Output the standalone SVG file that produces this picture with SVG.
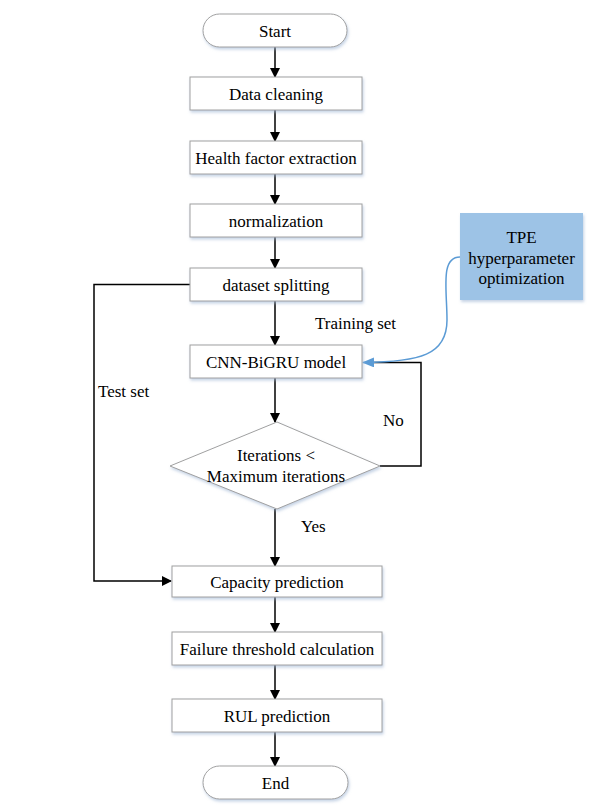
<svg xmlns="http://www.w3.org/2000/svg" width="592" height="805" viewBox="0 0 592 805">
<defs>
<filter id="sh" x="-10%" y="-20%" width="120%" height="150%">
<feDropShadow dx="1" dy="2" stdDeviation="1.5" flood-color="#9fb6d3" flood-opacity="0.6"/>
</filter>
<marker id="ah" markerWidth="10" markerHeight="10" refX="9" refY="5" orient="auto" markerUnits="userSpaceOnUse">
<path d="M0,0 L10,5 L0,10 z" fill="#000"/>
</marker>
<marker id="ahb" markerWidth="12" markerHeight="10" refX="11" refY="5" orient="auto" markerUnits="userSpaceOnUse">
<path d="M0,0 L12,5 L0,10 z" fill="#5b9bd5"/>
</marker>
</defs>
<style>
.box{fill:#fff;stroke:#a0a0a0;stroke-width:1;filter:url(#sh)}
.t{font-size:17px;fill:#000;text-anchor:middle}
.l{font-size:17px;fill:#000}
.c{fill:none;stroke:#000;stroke-width:1.5}
</style>
<rect width="592" height="805" fill="#fff"/>
<g id="connectors">
<line class="c" x1="275" y1="47" x2="275" y2="77" marker-end="url(#ah)"/>
<line class="c" x1="275" y1="110" x2="275" y2="141" marker-end="url(#ah)"/>
<line class="c" x1="275" y1="174" x2="275" y2="204" marker-end="url(#ah)"/>
<line class="c" x1="275" y1="237" x2="275" y2="268" marker-end="url(#ah)"/>
<line class="c" x1="275" y1="301" x2="275" y2="345" marker-end="url(#ah)"/>
<line class="c" x1="275" y1="378" x2="275" y2="422" marker-end="url(#ah)"/>
<line class="c" x1="275" y1="509" x2="275" y2="566" marker-end="url(#ah)"/>
<line class="c" x1="275" y1="597" x2="275" y2="632" marker-end="url(#ah)"/>
<line class="c" x1="275" y1="665" x2="275" y2="699" marker-end="url(#ah)"/>
<line class="c" x1="275" y1="732" x2="275" y2="766" marker-end="url(#ah)"/>
<polyline class="c" points="190,284.5 94,284.5 94,581 171,581" marker-end="url(#ah)"/>
<polyline class="c" points="380,466 421,466 421,362.5 372,362.5"/>
<path d="M460,257 C440,257 447,290 447,320 C447,355 420,362 363,362.5" fill="none" stroke="#5b9bd5" stroke-width="1.5" marker-end="url(#ahb)"/>
</g>
<g font-family="'Liberation Serif', 'Times New Roman', 'DejaVu Serif', serif">
<g id="start"><rect class="box" x="203" y="14" width="144" height="33" rx="16.5"/><text class="t" x="275" y="36.5">Start</text></g>
<g id="data-cleaning"><rect class="box" x="190" y="77" width="172" height="33"/><text class="t" x="276" y="99.5">Data cleaning</text></g>
<g id="health-factor"><rect class="box" x="190" y="141" width="172" height="33"/><text class="t" x="276" y="163.5">Health factor extraction</text></g>
<g id="normalization"><rect class="box" x="190" y="204" width="172" height="33"/><text class="t" x="276" y="226.5">normalization</text></g>
<g id="dataset-splitting"><rect class="box" x="190" y="268" width="172" height="33"/><text class="t" x="276" y="290.5">dataset splitting</text></g>
<g id="cnn-bigru"><rect class="box" x="190" y="345" width="172" height="33"/><text class="t" x="276" y="367.5">CNN-BiGRU model</text></g>
<g id="tpe"><rect x="460" y="213" width="123" height="87" fill="#9dc3e6" filter="url(#sh)"/><text class="t" x="521.5" y="243">TPE</text><text class="t" x="521.5" y="263.5">hyperparameter</text><text class="t" x="521.5" y="284">optimization</text></g>
<g id="decision"><polygon class="box" points="277,422 380,466 277,509 170,466"/><text class="t" x="276" y="461">Iterations &lt;</text><text class="t" x="276" y="482">Maximum iterations</text></g>
<g id="capacity"><rect class="box" x="172" y="566" width="210" height="31"/><text class="t" x="277" y="587.5">Capacity prediction</text></g>
<g id="failure"><rect class="box" x="172" y="632" width="210" height="33"/><text class="t" x="277" y="654.5">Failure threshold calculation</text></g>
<g id="rul"><rect class="box" x="172" y="699" width="210" height="33"/><text class="t" x="277" y="721.5">RUL prediction</text></g>
<g id="end"><rect class="box" x="203" y="766" width="145" height="33" rx="16.5"/><text class="t" x="275.5" y="788.5">End</text></g>
<g id="labels">
<text class="l" x="315" y="329">Training set</text>
<text class="l" x="98" y="397">Test set</text>
<text class="l" x="383" y="426">No</text>
<text class="l" x="301" y="532">Yes</text>
</g>
</g>
</svg>
